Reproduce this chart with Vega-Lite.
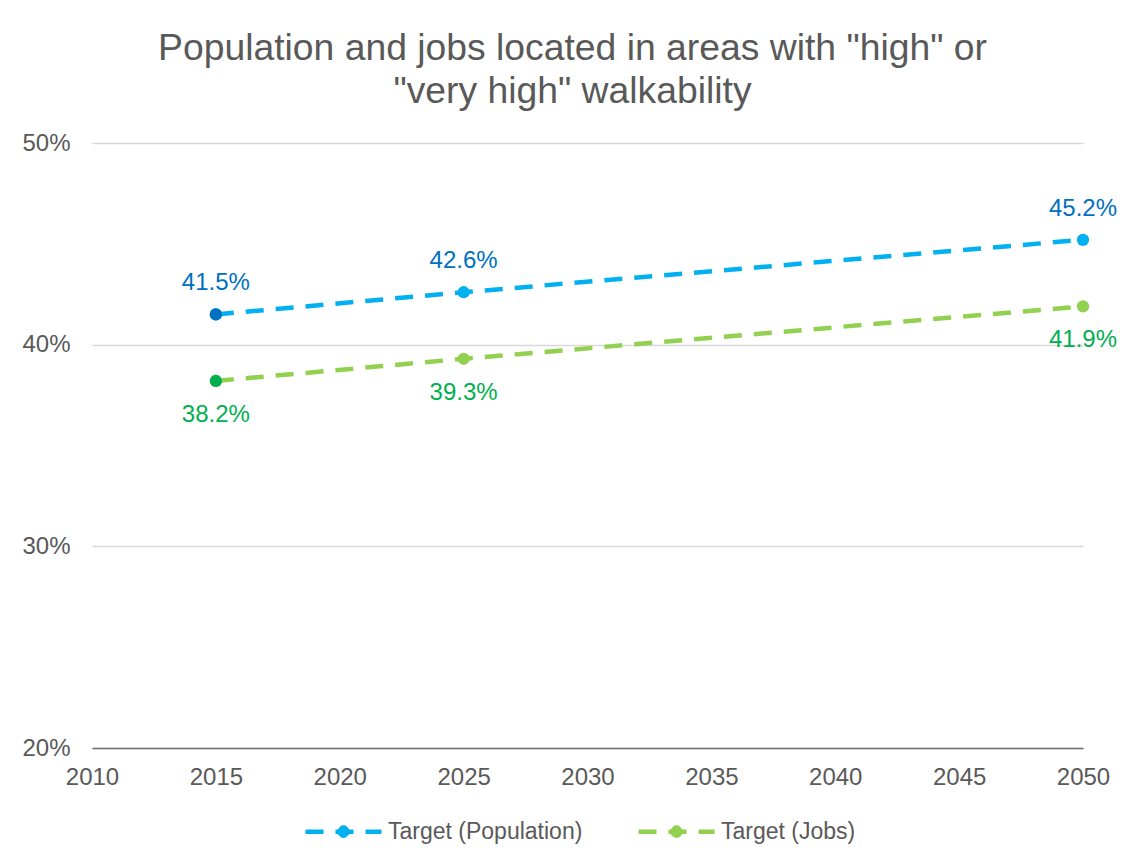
{
  "$schema": "https://vega.github.io/schema/vega-lite/v6.json",
  "width": 991,
  "height": 605,
  "autosize": {"type": "none"},
  "padding": {"left": 92, "top": 143, "right": 42, "bottom": 115},
  "background": "white",
  "config": {
    "font": "Liberation Sans",
    "view": {"stroke": null},
    "axis": {"labelFont": "Liberation Sans", "labelFontSize": 24, "labelColor": "#595959", "ticks": false, "title": null},
    "legend": {"labelFont": "Liberation Sans", "labelFontSize": 23, "labelColor": "#595959", "labelLimit": 500}
  },
  "title": {
    "text": ["Population and jobs located in areas with \"high\" or", "\"very high\" walkability"],
    "fontSize": 37.3,
    "lineHeight": 43,
    "font": "Liberation Sans",
    "fontWeight": "normal",
    "color": "#595959",
    "anchor": "middle",
    "dx": -15,
    "offset": 20
  },
  "data": {
    "values": [
      {"series": "Target (Population)", "year": 2015, "value": 0.415},
      {"series": "Target (Population)", "year": 2025, "value": 0.426},
      {"series": "Target (Population)", "year": 2050, "value": 0.452},
      {"series": "Target (Jobs)", "year": 2015, "value": 0.382},
      {"series": "Target (Jobs)", "year": 2025, "value": 0.393},
      {"series": "Target (Jobs)", "year": 2050, "value": 0.419}
    ]
  },
  "encoding": {
    "x": {
      "field": "year", "type": "quantitative",
      "scale": {"domain": [2010, 2050], "nice": false, "zero": false},
      "axis": {"values": [2010, 2015, 2020, 2025, 2030, 2035, 2040, 2045, 2050], "format": "d", "grid": false, "domainColor": "#6e6e6e", "domainWidth": 1.5, "labelPadding": 17, "labelFlush": false}
    },
    "y": {
      "field": "value", "type": "quantitative",
      "scale": {"domain": [0.2, 0.5], "nice": false, "zero": false},
      "axis": {"values": [0.2, 0.3, 0.4, 0.5], "format": ".0%", "domain": false, "gridColor": "#d9d9d9", "gridWidth": 1.3, "labelPadding": 22}
    }
  },
  "layer": [
    {
      "mark": {"type": "line", "strokeDash": [18, 12], "strokeWidth": 4.5, "strokeCap": "butt"},
      "encoding": {
        "color": {
          "field": "series", "type": "nominal",
          "scale": {"domain": ["Target (Population)", "Target (Jobs)"], "range": ["#00B0F0", "#92D050"]},
          "legend": {
            "title": null,
            "orient": "none",
            "legendX": 211,
            "legendY": 648,
            "direction": "horizontal",
            "symbolType": "M-1,0H1 M-0.0737,0A0.0737,0.0737,0,1,0,0.0737,0A0.0737,0.0737,0,1,0,-0.0737,0 M-0.1077,0A0.0737,0.0737,0,1,0,0.0397,0A0.0737,0.0737,0,1,0,-0.1077,0 M-0.0397,0A0.0737,0.0737,0,1,0,0.1077,0A0.0737,0.0737,0,1,0,-0.0397,0 M-0.0737,-0.034A0.0737,0.0737,0,1,0,0.0737,-0.034A0.0737,0.0737,0,1,0,-0.0737,-0.034 M-0.0737,0.034A0.0737,0.0737,0,1,0,0.0737,0.034A0.0737,0.0737,0,1,0,-0.0737,0.034",
            "symbolSize": 5776,
            "symbolStrokeWidth": 4.5,
            "symbolDash": [18, 12],
            "symbolOpacity": 1,
            "columnPadding": 46,
            "labelOffset": 4,
            "padding": 0
          }
        }
      }
    },
    {
      "mark": {"type": "point", "filled": true, "size": 150, "opacity": 1},
      "encoding": {
        "color": {
          "field": "series", "type": "nominal",
          "scale": {"domain": ["Target (Population)", "Target (Jobs)"], "range": ["#00B0F0", "#92D050"]}
        }
      }
    },
    {
      "transform": [{"filter": "datum.year == 2015 && datum.series == 'Target (Population)'"}],
      "mark": {"type": "point", "filled": true, "size": 150, "opacity": 1, "color": "#0070C0"}
    },
    {
      "transform": [{"filter": "datum.year == 2015 && datum.series == 'Target (Jobs)'"}],
      "mark": {"type": "point", "filled": true, "size": 150, "opacity": 1, "color": "#00B050"}
    },
    {
      "transform": [{"filter": "datum.series == 'Target (Population)'"}],
      "mark": {"type": "text", "color": "#0070C0", "fontSize": 24, "baseline": "alphabetic", "dy": -24, "font": "Liberation Sans"},
      "encoding": {"text": {"field": "value", "type": "quantitative", "format": ".1%"}}
    },
    {
      "transform": [{"filter": "datum.series == 'Target (Jobs)'"}],
      "mark": {"type": "text", "color": "#00B050", "fontSize": 24, "baseline": "alphabetic", "dy": 41, "font": "Liberation Sans"},
      "encoding": {"text": {"field": "value", "type": "quantitative", "format": ".1%"}}
    }
  ]
}
